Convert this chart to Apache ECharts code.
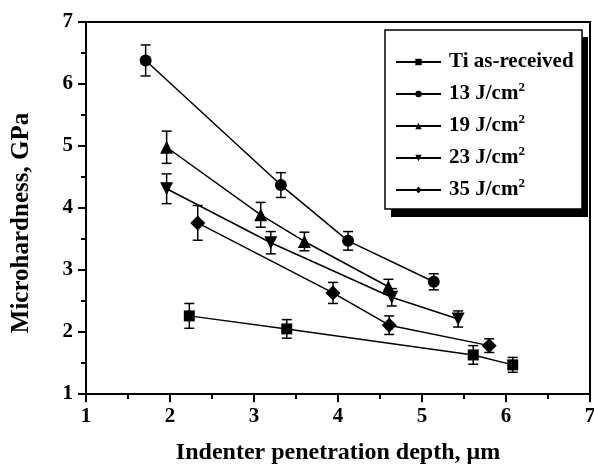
<!DOCTYPE html>
<html>
<head>
<meta charset="utf-8">
<script src="https://cdn.jsdelivr.net/npm/echarts@6/dist/echarts.min.js"></script>
<style>
html, body { margin: 0; padding: 0; background: #fff; }
#main { width: 594px; height: 466px; }
</style>
</head>
<body>
<div id="main"></div>
<script>
// indenter penetration depth (um), microhardness (GPa), error (GPa)
const tiX = [2.23, 3.39, 5.61, 6.08];
const tiY = [2.26, 2.05, 1.63, 1.47];
const tiErr = [0.2, 0.15, 0.15, 0.12];

const e13X = [1.71, 3.32, 4.12, 5.14];
const e13Y = [6.38, 4.37, 3.47, 2.81];
const e13Err = [0.25, 0.2, 0.15, 0.13];

const e19X = [1.96, 3.08, 3.60, 4.60];
const e19Y = [4.98, 3.89, 3.46, 2.73];
const e19Err = [0.26, 0.2, 0.15, 0.12];

const e23X = [1.96, 3.20, 4.64, 5.43];
const e23Y = [4.31, 3.44, 2.56, 2.21];
const e23Err = [0.24, 0.18, 0.14, 0.13];

const e35X = [2.33, 3.94, 4.61, 5.80];
const e35Y = [3.76, 2.63, 2.11, 1.78];
const e35Err = [0.28, 0.17, 0.15, 0.11];

const seriesDefs = [
  { name: 'Ti as-received', x: tiX, y: tiY, err: tiErr, symbol: 'rect', size: 11, rotate: 0 },
  { name: '13 J/cm2', x: e13X, y: e13Y, err: e13Err, symbol: 'circle', size: 12, rotate: 0 },
  { name: '19 J/cm2', x: e19X, y: e19Y, err: e19Err, symbol: 'triangle', size: 13, rotate: 0 },
  { name: '23 J/cm2', x: e23X, y: e23Y, err: e23Err, symbol: 'triangle', size: 13, rotate: 180 },
  { name: '35 J/cm2', x: e35X, y: e35Y, err: e35Err, symbol: 'diamond', size: 15, rotate: 0 }
];

const FONT = 'Liberation Serif';

const chart = echarts.init(document.getElementById('main'));

const series = [];
seriesDefs.forEach(function (d) {
  series.push({
    name: d.name,
    type: 'line',
    data: d.x.map(function (v, i) { return [v, d.y[i]]; }),
    symbol: d.symbol,
    symbolSize: d.size,
    symbolRotate: d.rotate,
    showAllSymbol: true,
    lineStyle: { color: '#000', width: 1.5 },
    itemStyle: { color: '#000' },
    z: 3
  });
  series.push({
    type: 'custom',
    name: d.name + ' err',
    data: d.x.map(function (v, i) { return [v, d.y[i] - d.err[i], d.y[i] + d.err[i]]; }),
    renderItem: function (params, api) {
      const lo = api.coord([api.value(0), api.value(1)]);
      const hi = api.coord([api.value(0), api.value(2)]);
      const w = 5;
      const st = { stroke: '#000', lineWidth: 1.5 };
      return {
        type: 'group',
        children: [
          { type: 'line', shape: { x1: lo[0], y1: lo[1], x2: hi[0], y2: hi[1] }, style: st },
          { type: 'line', shape: { x1: lo[0] - w, y1: lo[1], x2: lo[0] + w, y2: lo[1] }, style: st },
          { type: 'line', shape: { x1: hi[0] - w, y1: hi[1], x2: hi[0] + w, y2: hi[1] }, style: st }
        ]
      };
    },
    encode: { x: 0, y: [1, 2] },
    z: 2,
    silent: true
  });
});

const option = {
  animation: false,
  backgroundColor: '#fff',
  textStyle: { fontFamily: FONT, fontWeight: 'bold', color: '#000' },
  grid: {
    left: 86, right: 4, top: 22, bottom: 72,
    outerBoundsMode: 'none',
    show: true, borderColor: '#000', borderWidth: 2, backgroundColor: 'transparent'
  },
  // legend frame with its hard drop shadow
  graphic: [
    { type: 'rect', z: 5, silent: true, shape: { x: 391, y: 37, width: 197, height: 180 }, style: { fill: '#000' } },
    { type: 'rect', z: 6, silent: true, shape: { x: 385, y: 30, width: 197, height: 179 }, style: { fill: '#fff', stroke: '#000', lineWidth: 1.5 } },
    {
      type: 'text', z: 6, silent: true,
      x: 22, y: 223, rotation: Math.PI / 2,
      style: {
        text: 'Microhardness, GPa', fill: '#000',
        font: 'bold 25px "Liberation Serif"',
        textAlign: 'center', textVerticalAlign: 'middle'
      }
    }
  ],
  legend: {
    data: seriesDefs.map(function (d) { return d.name; }),
    orient: 'vertical',
    left: 395,
    top: 51,
    padding: 0,
    itemGap: 8,
    itemWidth: 45,
    itemHeight: 8,
    z: 10,
    formatter: function (name) {
      return name.replace(/cm2$/, 'cm{sup|2}');
    },
    textStyle: {
      fontFamily: FONT, fontWeight: 'bold', fontSize: 21, color: '#000', lineHeight: 22,
      padding: [0, 0, 0, 3],
      rich: {
        sup: { fontFamily: FONT, fontWeight: 'bold', fontSize: 13, lineHeight: 11, color: '#000', verticalAlign: 'bottom', padding: [0, 0, 11, 0] }
      }
    }
  },
  xAxis: {
    type: 'value',
    min: 1, max: 7, interval: 1,
    name: 'Indenter penetration depth, \u03bcm',
    nameLocation: 'middle',
    nameGap: 47,
    nameTextStyle: { fontFamily: FONT, fontWeight: 'bold', fontSize: 24, color: '#000' },
    axisLine: { onZero: false, lineStyle: { color: '#000', width: 2 } },
    axisTick: { show: true, inside: false, length: 8, lineStyle: { color: '#000', width: 2 } },
    minorTick: { show: true, splitNumber: 2, length: 5, lineStyle: { color: '#000', width: 2 } },
    axisLabel: { fontFamily: FONT, fontWeight: 'bold', fontSize: 21, color: '#000', margin: 12 },
    splitLine: { show: false }
  },
  yAxis: {
    type: 'value',
    min: 1, max: 7, interval: 1,
    axisLine: { onZero: false, lineStyle: { color: '#000', width: 2 } },
    axisTick: { show: true, inside: false, length: 8, lineStyle: { color: '#000', width: 2 } },
    minorTick: { show: true, splitNumber: 2, length: 5, lineStyle: { color: '#000', width: 2 } },
    axisLabel: { fontFamily: FONT, fontWeight: 'bold', fontSize: 21, color: '#000', margin: 13 },
    splitLine: { show: false }
  },
  series: series
};

chart.setOption(option);
</script>
</body>
</html>
